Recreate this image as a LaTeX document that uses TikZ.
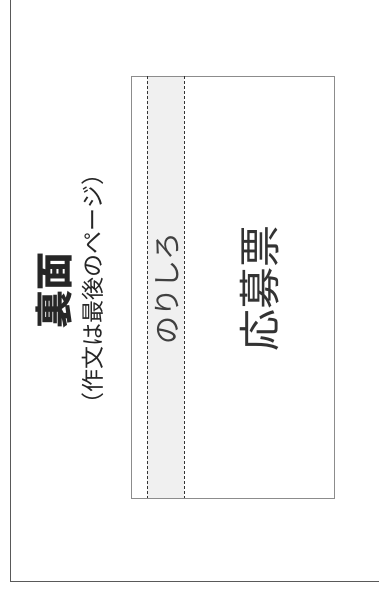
\documentclass[tikz,border=0pt]{standalone}
\usepackage{fontspec}
\newfontfamily\cjk{Noto Sans CJK JP}
\tikzset{
  frame/.style={draw=black!65, line width=1.4pt},
  card/.style={draw=black!45, line width=0.9pt},
  fold/.style={draw=black!80, dashed, dash pattern=on 3pt off 2pt, line width=0.7pt},
  rtext/.style={rotate=90, inner sep=0pt, anchor=center}
}
\begin{document}
\begin{tikzpicture}[x=1pt,y=-1pt]
\useasboundingbox (0,0) rectangle (378,592);
\fill[white] (0,0) rectangle (378,592);
% outer frame (cropped at top and right)
\draw[frame] (10.5,-5) -- (10.5,581.5) -- (385,581.5);
% glue strip fill
\fill[black!6] (147,76) rectangle (184,498);
% card
\node[card, minimum width=203pt, minimum height=422pt, inner sep=0pt] (card) at (232.5,287) {};
\coordinate (d1t) at (147,76); \coordinate (d1b) at (147,498);
\coordinate (d2t) at (184,76); \coordinate (d2b) at (184,498);
\draw[fold] (d1t) -- (d1b);
\draw[fold] (d2t) -- (d2b);
% texts
\node[rtext, text=black!85] (ura) at (54,290) {\cjk\bfseries\fontsize{38pt}{38pt}\selectfont 裏面};
\node[rtext, text=black!85] (note) at (93,289) {\cjk\fontsize{23pt}{23pt}\selectfont （作文は最後のページ）};
\node[rtext, text=black!75] (nori) at (167,288) {\cjk\fontsize{28pt}{28pt}\selectfont のりしろ};
\node[rtext, text=black!80] (oubo) at (260,288) {\cjk\fontsize{42pt}{42pt}\selectfont 応募票};
\end{tikzpicture}
\end{document}
